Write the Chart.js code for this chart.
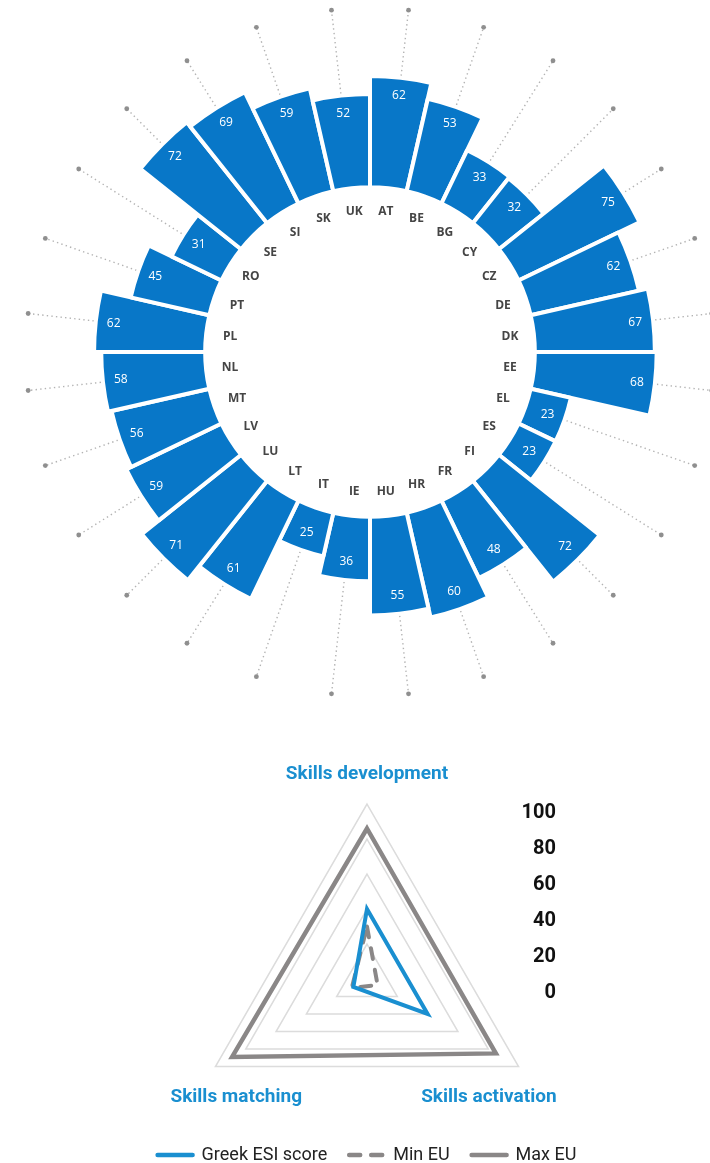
<!DOCTYPE html>
<html>
<head>
<meta charset="utf-8">
<script src="https://cdn.jsdelivr.net/npm/chart.js@4"></script>
<style>
  html, body { margin: 0; padding: 0; background: #fff; overflow: hidden; }
  canvas { display: block; }
</style>
</head>
<body>
<canvas id="ring" width="710" height="700"></canvas>
<canvas id="radar" width="710" height="480"></canvas>
<script>
// ESI score per country (ring chart)
const countries = ['AT', 'BE', 'BG', 'CY', 'CZ', 'DE', 'DK', 'EE', 'EL', 'ES', 'FI', 'FR', 'HR', 'HU',
  'IE', 'IT', 'LT', 'LU', 'LV', 'MT', 'NL', 'PL', 'PT', 'RO', 'SE', 'SI', 'SK', 'UK'];
const scores = [62, 53, 33, 32, 75, 62, 67, 68, 23, 23, 72, 48, 60, 55,
  36, 25, 61, 71, 59, 56, 58, 62, 45, 31, 72, 69, 59, 52];

// pillar scores (radar chart)
const pillars = ['Skills development', 'Skills activation', 'Skills matching'];
const greekScores = [40, 40, 9];
const minEU = [30, 7, 10];
const maxEU = [86, 85, 89];
const radarTicks = [0, 20, 40, 60, 80, 100];

const barBlue = '#0877c8';
const lineBlue = '#1a8fd0';
const gray = '#8a8787';
const narrow = "'Liberation Sans Narrow', 'Arial Narrow', 'Roboto', sans-serif";

const ringPlugin = {
  id: 'ring',
  afterDatasetUpdate(chart, args) {
    // bars start at the value 0 ring, not at the centre
    const r0 = chart.scales.r.getDistanceFromCenterForValue(0);
    args.meta.data.forEach(arc => { arc.innerRadius = r0; });
  },
  beforeDatasetsDraw(chart) {
    const ctx = chart.ctx;
    const scale = chart.scales.r;
    const rEnd = scale.getDistanceFromCenterForValue(100);
    ctx.save();
    chart.getDatasetMeta(0).data.forEach(arc => {
      const a = (arc.startAngle + arc.endAngle) / 2;
      const c = Math.cos(a), s = Math.sin(a);
      ctx.setLineDash([1.4, 3.2]);
      ctx.lineWidth = 1.4;
      ctx.strokeStyle = '#b3b3b3';
      ctx.beginPath();
      ctx.moveTo(scale.xCenter + c * (arc.outerRadius + 2), scale.yCenter + s * (arc.outerRadius + 2));
      ctx.lineTo(scale.xCenter + c * rEnd, scale.yCenter + s * rEnd);
      ctx.stroke();
      ctx.setLineDash([]);
      ctx.fillStyle = '#8f8f8f';
      ctx.beginPath();
      ctx.arc(scale.xCenter + c * rEnd, scale.yCenter + s * rEnd, 2.4, 0, Math.PI * 2);
      ctx.fill();
    });
    ctx.restore();
  },
  afterDatasetsDraw(chart) {
    const ctx = chart.ctx;
    const scale = chart.scales.r;
    const r0 = scale.getDistanceFromCenterForValue(0);
    ctx.save();
    ctx.textAlign = 'center';
    ctx.textBaseline = 'middle';
    chart.getDatasetMeta(0).data.forEach((arc, i) => {
      const a = (arc.startAngle + arc.endAngle) / 2;
      const c = Math.cos(a), s = Math.sin(a);
      ctx.fillStyle = '#ffffff';
      ctx.font = "12px 'Open Sans', sans-serif";
      const rv = arc.outerRadius - 18;
      ctx.fillText(String(scores[i]), scale.xCenter + c * rv, scale.yCenter + s * rv);
      ctx.fillStyle = '#454545';
      ctx.font = "bold 12px 'Open Sans', sans-serif";
      const rl = r0 - 24;
      ctx.fillText(countries[i], scale.xCenter + c * rl, scale.yCenter + s * rl);
    });
    ctx.restore();
  }
};

new Chart(document.getElementById('ring'), {
  type: 'polarArea',
  data: {
    labels: countries,
    datasets: [{
      data: scores,
      backgroundColor: barBlue,
      borderColor: '#ffffff',
      borderWidth: 4
    }]
  },
  options: {
    responsive: false,
    animation: false,
    layout: { padding: { left: 30, right: 0, top: 8, bottom: 4 } },
    plugins: { legend: { display: false }, tooltip: { enabled: false } },
    scales: {
      r: {
        min: -92,
        max: 100,
        ticks: { display: false },
        grid: { display: false },
        angleLines: { display: false },
        pointLabels: { display: false },
        afterFit: s => { s.drawingArea = s.height / 2; }
      }
    }
  },
  plugins: [ringPlugin]
});

const radarText = {
  id: 'radarText',
  afterDraw(chart) {
    const ctx = chart.ctx;
    const scale = chart.scales.r;
    const outer = scale.getDistanceFromCenterForValue(100);
    ctx.save();
    // tick column on the right
    ctx.fillStyle = '#111111';
    ctx.font = 'bold 20px ' + narrow;
    ctx.textAlign = 'right';
    ctx.textBaseline = 'middle';
    radarTicks.forEach(t => {
      const d = scale.getDistanceFromCenterForValue(t);
      ctx.fillText(String(t), 556, scale.yCenter + 14 - d * 1.03);
    });
    // pillar names
    ctx.fillStyle = lineBlue;
    ctx.font = 'bold 19px ' + narrow;
    const p0 = scale.getPointPosition(0, outer);
    const p1 = scale.getPointPosition(1, outer);
    const p2 = scale.getPointPosition(2, outer);
    ctx.textAlign = 'center';
    ctx.fillText(pillars[0], p0.x, p0.y - 30);
    ctx.textAlign = 'right';
    ctx.fillText(pillars[1], p1.x + 38, p1.y + 31);
    ctx.textAlign = 'left';
    ctx.fillText(pillars[2], p2.x - 45, p2.y + 31);
    ctx.restore();
  }
};

const baseLabels = Chart.defaults.plugins.legend.labels.generateLabels;

new Chart(document.getElementById('radar'), {
  type: 'radar',
  data: {
    labels: pillars,
    datasets: [
      { label: 'Greek ESI score', data: greekScores, borderColor: lineBlue, borderWidth: 4,
        borderCapStyle: 'round', fill: false, pointRadius: 0 },
      { label: 'Min EU', data: minEU, borderColor: gray, borderWidth: 4, borderDash: [11, 11],
        borderCapStyle: 'round', fill: false, pointRadius: 0 },
      { label: 'Max EU', data: maxEU, borderColor: gray, borderWidth: 4.5,
        borderCapStyle: 'round', fill: false, pointRadius: 0 }
    ]
  },
  options: {
    responsive: false,
    animation: false,
    layout: { padding: { left: 24, right: 0, top: 135, bottom: 6 } },
    plugins: {
      tooltip: { enabled: false },
      legend: {
        position: 'bottom',
        labels: {
          usePointStyle: true,
          pointStyle: 'line',
          pointStyleWidth: 35,
          padding: 22,
          color: '#222222',
          font: { family: narrow, size: 18 },
          generateLabels: chart => baseLabels(chart).map(item => {
            const ds = chart.data.datasets[item.datasetIndex];
            return Object.assign(item, {
              lineDash: ds.borderDash || [],
              lineCap: 'round',
              lineWidth: 4.5
            });
          })
        }
      }
    },
    scales: {
      r: {
        min: 0,
        max: 100,
        ticks: { stepSize: 20, display: false },
        grid: { color: '#dcdcdc', lineWidth: 1.5 },
        angleLines: { display: false },
        pointLabels: { display: false },
        afterFit: s => { s.drawingArea = 175; }
      }
    }
  },
  plugins: [radarText]
});
</script>
</body>
</html>
